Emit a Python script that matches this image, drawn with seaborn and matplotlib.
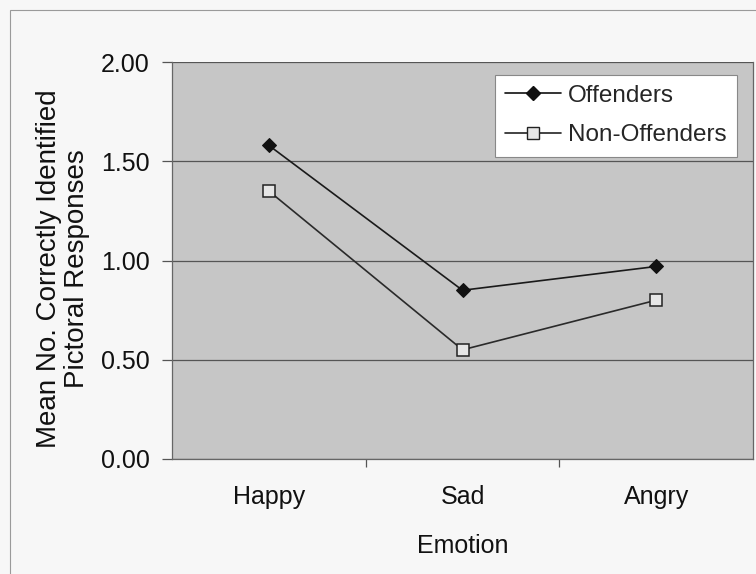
import matplotlib
matplotlib.use("Agg")
import matplotlib.pyplot as plt
import matplotlib.patches as mpatches
import pandas as pd
import seaborn as sns

# Data
emotions = ["Happy", "Sad", "Angry"]
offenders = [1.58, 0.85, 0.97]
non_offenders = [1.35, 0.55, 0.80]
y_ticks = [0.0, 0.5, 1.0, 1.5, 2.0]

df = pd.DataFrame({
    "Emotion": emotions * 2,
    "Value": offenders + non_offenders,
    "Group": ["Offenders"] * 3 + ["Non-Offenders"] * 3,
})

sns.set_theme(style="white")
plt.rcParams["font.family"] = ["Liberation Sans", "DejaVu Sans"]

FS = 18

fig = plt.figure(figsize=(7.56, 5.74), dpi=100)
fig.patch.set_facecolor("#f7f7f7")
ax = fig.add_axes([172 / 756, 1 - 459 / 574, (753 - 172) / 756, (459 - 62) / 574])
ax.set_facecolor("#c6c6c6")

# page frame from the scan
fig.patches.append(mpatches.Rectangle((10 / 756, -0.1), 1.2, 1 - 10 / 574 + 0.1,
                                      transform=fig.transFigure, fill=False,
                                      edgecolor="#9a9a9a", linewidth=0.8))

sns.lineplot(data=df, x="Emotion", y="Value", hue="Group", style="Group",
             palette={"Offenders": "#1a1a1a", "Non-Offenders": "#2a2a2a"},
             markers={"Offenders": "D", "Non-Offenders": "s"},
             dashes=False, linewidth=1.2, markersize=8, ax=ax, legend=False)

lines = ax.get_lines()
lines[0].set_markerfacecolor("#111111")
lines[0].set_markeredgecolor("#111111")
lines[0].set_markersize(7)
lines[1].set_markerfacecolor("#e6e6e6")
lines[1].set_markeredgecolor("#222222")
lines[1].set_markeredgewidth(1.1)

ax.set_xlim(-0.5, 2.5)
ax.set_ylim(0, 2.0)
ax.set_yticks(y_ticks)
ax.set_yticklabels([f"{v:.2f}" for v in y_ticks], fontsize=FS, color="#111111")
ax.set_xticks(range(3))
ax.set_xticklabels(emotions, fontsize=FS, color="#111111")
ax.set_xticks([0.5, 1.5], minor=True)
ax.tick_params(axis="x", which="major", bottom=True, length=0, pad=19)
ax.tick_params(axis="x", which="minor", bottom=True, length=6, width=0.9,
               color="#555555", direction="out")
ax.tick_params(axis="y", left=True, length=7, width=0.9, color="#555555",
               direction="out", pad=9)
ax.yaxis.grid(True, color="#555555", linewidth=0.9)
ax.xaxis.grid(False)

for side in ["left", "bottom", "top", "right"]:
    ax.spines[side].set_color("#666666")
    ax.spines[side].set_linewidth(0.9)
ax.spines["top"].set_visible(False)

ax.set_xlabel("Emotion", fontsize=FS, color="#111111", labelpad=18)
ax.set_ylabel("Mean No. Correctly Identified\nPictoral Responses", fontsize=20,
              color="#111111", labelpad=10, linespacing=1.12)
ax.yaxis.set_label_coords(-0.141, 0.48)

handles = [
    plt.Line2D([], [], color="#111111", marker="D", markersize=7, linewidth=1.2,
               markerfacecolor="#111111"),
    plt.Line2D([], [], color="#222222", marker="s", markersize=8, linewidth=1.2,
               markerfacecolor="#e6e6e6"),
]
leg = ax.legend(handles, ["Offenders", "Non-Offenders"], loc="upper right",
                bbox_to_anchor=(0.972, 0.968), fontsize=17.5, frameon=True,
                fancybox=False, handlelength=2.3, borderpad=0.42, labelspacing=0.72,
                handletextpad=0.28, borderaxespad=0)
leg.get_frame().set_facecolor("white")
leg.get_frame().set_edgecolor("#888888")
leg.get_frame().set_linewidth(0.8)
leg.get_frame().set_alpha(1)

fig.savefig("out.png", dpi=100, facecolor=fig.get_facecolor())
